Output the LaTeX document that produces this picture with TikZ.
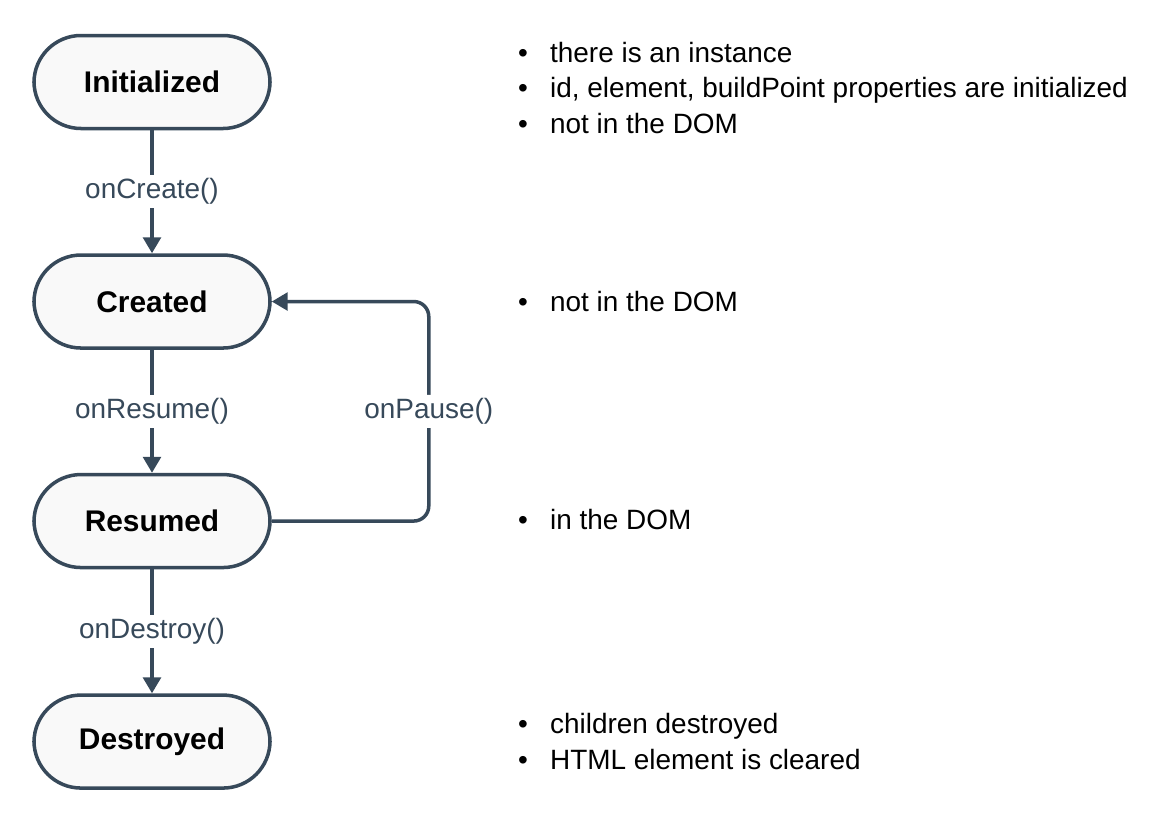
\documentclass[tikz,border=0pt]{standalone}
\usepackage{fontspec}
\setmainfont{Liberation Sans}
\usepackage{xcolor}
\usetikzlibrary{arrows.meta, positioning}
\definecolor{slate}{HTML}{37495A}
\definecolor{boxfill}{HTML}{F9F9F9}
\tikzstyle{state} = [rectangle, rounded corners=0.94cm, minimum width=4.72cm, minimum height=1.86cm, draw=slate, line width=2pt, fill=boxfill, font=\fontsize{17}{20}\selectfont\bfseries, text centered]
\tikzstyle{arrow} = [draw=slate, line width=2pt, -{Triangle[length=9pt,width=10pt]}]
\tikzstyle{call} = [fill=white, text=slate, font=\fontsize{15.9}{19}\selectfont, inner sep=2pt]
\tikzstyle{notes} = [align=left, inner sep=0pt, font=\fontsize{15.9}{20.4}\selectfont]
\newcommand{\bul}{\makebox[0.64cm][l]{\textbullet}}

\begin{document}
\begin{tikzpicture}
        \useasboundingbox (0,0) rectangle (23.22,-16.5);

        % States
        \node (init) [state] at (3.04,-1.64) {Initialized};
        \node (created) [state, below=2.46cm of init] {Created};
        \node (resumed) [state, below=2.46cm of created] {Resumed};
        \node (destroyed) [state, below=2.48cm of resumed] {Destroyed};

        % Notes
        \node (initnotes) [notes, right=4.92cm of init, yshift=-0.12cm] {
            \bul there is an instance\\
            \bul id, element, buildPoint properties are initialized\\
            \bul not in the DOM
        };
        \node (creatednotes) [notes, right=4.92cm of created] {\bul not in the DOM};
        \node (resumednotes) [notes, right=4.92cm of resumed, yshift=0.04cm] {\bul in the DOM};
        \node (destroyednotes) [notes, right=4.92cm of destroyed] {
            \bul children destroyed\\
            \bul HTML element is cleared
        };

        % Arrows
        \draw [arrow] (init) -- node[call] {onCreate()} (created);
        \draw [arrow] (created) -- node[call] {onResume()} (resumed);
        \draw [arrow] (resumed) -- node[call] {onDestroy()} (destroyed);
        \draw [arrow, rounded corners=0.3cm] (resumed.east) -- ++(3.14,0) |- node[call, pos=0.25] {onPause()} (created.east);

\end{tikzpicture}
\end{document}
